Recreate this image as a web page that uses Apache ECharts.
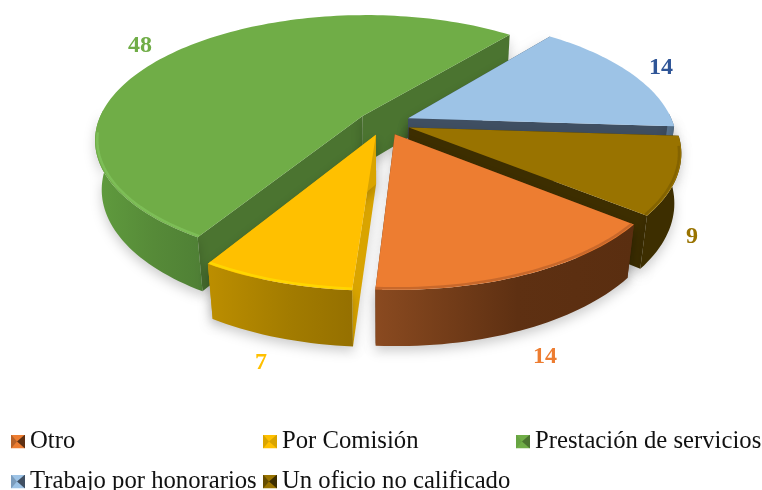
<!DOCTYPE html>
<html><head><meta charset="utf-8">
<script src="https://cdn.jsdelivr.net/npm/echarts@6/dist/echarts.min.js"></script>
<style>html,body{margin:0;padding:0;background:#fff}#c{width:762px;height:490px}</style>
</head><body><div id="c"></div>
<script>
const categories = ['Otro','Por Comisión','Prestación de servicios','Trabajo por honorarios','Un oficio no calificado'];
const values = [14,7,48,14,9];

// styling and layout
const topColors  = ['#ED7D31','#FFC000','#70AD47','#9DC3E6','#997300'];
const cutColors  = ['#5E3012','#D9A400','#4B7430','#3F4F62','#3D2E00'];
const wallLeft   = ['#8A4A20','#BC8E00','#609C3E','#5F7C99','#3D2E00'];
const wallMid    = ['#5E3012','#A37C00','#568A38','#56708A','#3D2E00'];
const wallRight  = ['#5A2E10','#957000','#4F8035','#4F6880','#3D2E00'];
const rimColors  = ['#B8602A','#FFE000','#83C45E','#7FA3C6','#7A5C00'];
const labelColors= ['#ED7D31','#FFC000','#70AD47','#2F5597','#997300'];
const labelPos   = [[545,357],[261,363],[140,46],[661,68],[692,237]];
const paintOrder = [3,4,0,1,2];
const legendPos  = [[11,429],[263,429],[516,429],[11,469],[263,469]];
const startAngle = 129, explode = 0.1;
const cx = 384, cy = 123, Rx = 265, Ry = 122, persp = 0.185, depthPersp = 0.023, H = 50;

const total = values.reduce((a,b)=>a+b,0);
function project(X,Y,d){const w=1+persp*Y+depthPersp*d;return [cx+Rx*X/w, cy-Ry*Y/w+H*d/w];}
function rad(a){return a*Math.PI/180;}

function sliceItem(i){
  return function(params, api){
    const v = api.value(0);
    let s = startAngle; for(let k=0;k<i;k++) s += values[k]/total*360;
    const e = s + v/total*360, m = (s+e)/2;
    const ox = explode*Math.sin(rad(m)), oy = explode*Math.cos(rad(m));
    const P=(a,r,d)=>project(ox+r*Math.sin(rad(a)), oy+r*Math.cos(rad(a)), d);
    const n = Math.max(8, Math.round((e-s)/1.5));
    const arc=[]; for(let t=0;t<=n;t++) arc.push(s+(e-s)*t/n);
    const topPts=[P(0,0,0)].concat(arc.map(a=>P(a,1,0)));
    const front=arc.filter(a=>Math.cos(rad(a))<0.05);
    const rim=arc.filter(a=>Math.cos(rad(a))<-0.12);
    const kids=[];
    const shadow={shadowBlur:12,shadowColor:'rgba(0,0,0,0.2)',shadowOffsetY:5};
    [s,e].forEach(a=>{
      kids.push({type:'polygon',shape:{points:[P(0,0,0),P(a,1,0),P(a,1,1),P(0,0,1)]},
        style:Object.assign({fill:cutColors[i]},shadow)});
    });
    if(front.length>1){
      const wall=front.map(a=>P(a,1,0)).concat(front.slice().reverse().map(a=>P(a,1,1)));
      kids.push({type:'polygon',shape:{points:wall},style:Object.assign({
        fill:{type:'linear',x:0,y:0,x2:1,y2:0,colorStops:[{offset:0,color:wallLeft[i]},{offset:0.55,color:wallMid[i]},{offset:1,color:wallRight[i]}]}},shadow)});
    }
    kids.push({type:'polygon',shape:{points:topPts},style:{fill:topColors[i]}});
    if(rim.length>1){
      kids.push({type:'polyline',shape:{points:rim.map(a=>P(a,0.992,0))},
        style:{fill:null,stroke:rimColors[i],lineWidth:2.5,opacity:0.7}});
    }
    kids.push({type:'text',style:{text:String(v),x:labelPos[i][0],y:labelPos[i][1],align:'center',verticalAlign:'middle',
      fill:labelColors[i],font:'bold 24px "Liberation Serif"'}});
    return {type:'group',children:kids};
  };
}

function legendIcon(i){
  const c=topColors[i], d=cutColors[i], l=wallLeft[i];
  const svg=`<svg xmlns="http://www.w3.org/2000/svg" width="14" height="14"><rect width="14" height="14" fill="${c}"/><polygon points="0,0 6,7 0,14" fill="${l}" fill-opacity="0.55"/><polygon points="14,0 14,14 6,7" fill="${d}"/></svg>`;
  return 'image://data:image/svg+xml;charset=utf-8,'+encodeURIComponent(svg);
}

const chart = echarts.init(document.getElementById('c'),null,{renderer:'canvas'});
chart.setOption({
  animation:false,
  backgroundColor:'#fff',
  legend:categories.map((name,i)=>({
    data:[{name,icon:legendIcon(i)}],left:legendPos[i][0],top:legendPos[i][1],padding:0,
    itemWidth:14,itemHeight:14,itemGap:0,selectedMode:false,
    textStyle:{fontFamily:'Liberation Serif',fontSize:24.7,color:'#111'}
  })),
  series:categories.map((name,i)=>({
    type:'custom',name,coordinateSystem:'none',silent:true,
    z:2+paintOrder[i],
    itemStyle:{color:topColors[i]},
    renderItem:sliceItem(i),
    data:[[values[i]]]
  }))
});
</script></body></html>
